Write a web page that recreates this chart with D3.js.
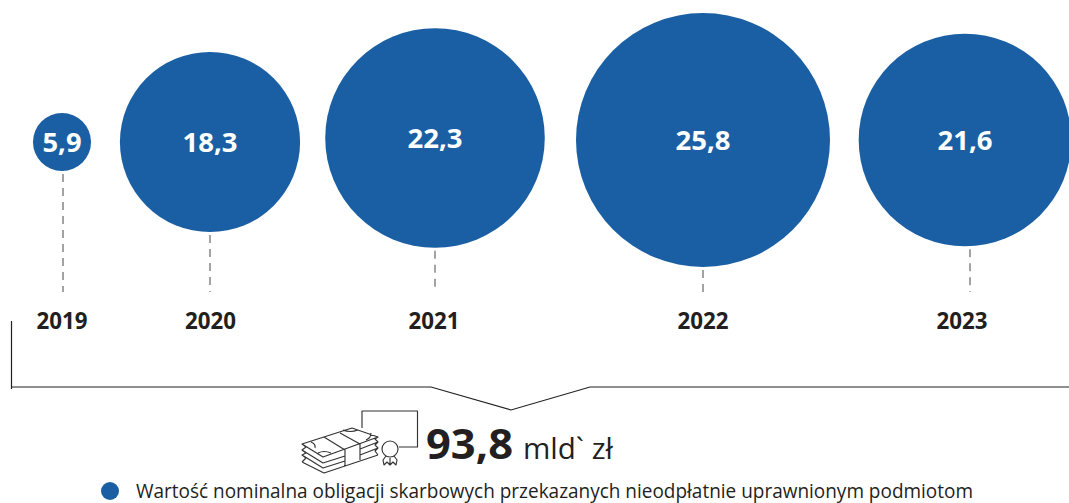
<!DOCTYPE html>
<html lang="pl">
<head>
<meta charset="utf-8">
<script src="https://cdn.jsdelivr.net/npm/d3@7/dist/d3.min.js"></script>
<style>
  html, body { margin: 0; padding: 0; background: #fff; }
  svg { display: block; }
  text { font-family: "Open Sans", "Noto Sans", sans-serif; }
</style>
</head>
<body>
<svg id="chart" width="1069" height="503"></svg>
<script>
// Nominal value of treasury bonds by year (bln PLN)
const years = ["2019", "2020", "2021", "2022", "2023"];
const bondValues = [5.9, 18.3, 22.3, 25.8, 21.6];
const totalLabel = "93,8";
const totalUnit = "mld` zł";
const legendLabel = "Wartość nominalna obligacji skarbowych przekazanych nieodpłatnie uprawnionym podmiotom";

const BLUE = "#1a5fa3";
const INK = "#231f20";

const svg = d3.select("#chart");
const plPL = d3.formatLocale({ decimal: ",", thousands: " ", grouping: [3], currency: ["", " zł"] });
const fmt = plPL.format(".1f");

// Bubble radius grows linearly with the value
const radius = d3.scaleLinear().domain([0, 25.8]).range([0, 127]);
const xPos = d3.scaleOrdinal().domain(years).range([62, 210, 435, 703, 965]);
const yPos = d3.scaleOrdinal().domain(years).range([142, 142, 138, 140, 140]);
// Leaders and year captions sit slightly off the bubble centres
const xLeader = d3.scaleOrdinal().domain(years).range([63, 210, 435, 703, 970]);
const xYear = d3.scaleOrdinal().domain(years).range([62, 210.5, 434, 703, 962]);

const rows = years.map((year, i) => ({ year, value: bondValues[i] }));

// Dashed leaders from each bubble down to its year
const leaderBottom = 292;
svg.append("g").selectAll("line").data(rows).join("line")
  .attr("x1", d => xLeader(d.year))
  .attr("x2", d => xLeader(d.year))
  .attr("y1", d => yPos(d.year) + radius(d.value) + 3)
  .attr("y2", leaderBottom)
  .attr("stroke", "#58585a")
  .attr("stroke-width", 1.1)
  .attr("stroke-dasharray", "8 6");

svg.append("g").selectAll("circle").data(rows).join("circle")
  .attr("cx", d => xPos(d.year))
  .attr("cy", d => yPos(d.year))
  .attr("r", d => radius(d.value))
  .attr("fill", BLUE);

// Value labels: condensed to the width of the label's own characters
svg.append("g").selectAll("text").data(rows).join("text")
  .attr("x", d => xPos(d.year))
  .attr("y", d => yPos(d.year) + 9.5)
  .attr("text-anchor", "middle")
  .attr("fill", "#fff")
  .attr("font-size", 27)
  .attr("font-weight", 700)
  .attr("textLength", d => fmt(d.value).length > 3 ? 55 : 39)
  .attr("lengthAdjust", "spacingAndGlyphs")
  .text(d => fmt(d.value));

svg.append("g").selectAll("text").data(rows).join("text")
  .attr("x", d => xYear(d.year))
  .attr("y", 328.5)
  .attr("text-anchor", "middle")
  .attr("fill", INK)
  .attr("font-size", 22.5)
  .attr("font-weight", 700)
  .attr("textLength", 51)
  .attr("lengthAdjust", "spacingAndGlyphs")
  .text(d => d.year);

// Bracket gathering all years into the total
svg.append("path")
  .attr("d", "M11.5,321V389M11,387H431L511,410L590,387H1069")
  .attr("fill", "none")
  .attr("stroke", INK)
  .attr("stroke-width", 1.2);

// Banknote stack with a certificate and rosette
const icon = svg.append("g")
  .attr("fill", "none")
  .attr("stroke", "#333335")
  .attr("stroke-width", 1.15)
  .attr("stroke-linejoin", "round");
icon.append("path").attr("d", [
  "M302,444L352,428L378,437L323,457Z",
  "M324,437L345,450V466",
  "M340,433L360,444V460",
  "M302,450L323,463L345,456",
  "M302,455L323,468L345,461",
  "M302,462L324,473L378,455",
  "M302,444L306,447L302,450L306,453L302,455L306,458L302,462",
  "M360,449L378,442L375,439L378,437",
  "M360,455L378,448L375,445L378,442",
  "M378,448L375,451L378,455",
  "M311,442Q316,444 315,448",
  "M343,430Q350,433 358,430",
  "M318,453Q324,450 331,453",
  "M366,440Q371,438 371,433"
].join(""));
icon.append("path").attr("d", "M362,428V411H417.5V447H399");
icon.append("circle").attr("cx", 390).attr("cy", 449).attr("r", 8);
icon.append("path").attr("d", "M386,456L383,460L384,465L387,462L390,465L390,458M394,456L397,460L396,465L393,462L390,465");

svg.append("text")
  .attr("x", 426).attr("y", 459)
  .attr("fill", INK)
  .attr("font-size", 42)
  .attr("font-weight", 700)
  .attr("textLength", 87)
  .attr("lengthAdjust", "spacingAndGlyphs")
  .text(totalLabel);

svg.append("text")
  .attr("x", 523).attr("y", 459)
  .attr("fill", INK)
  .attr("font-size", 30)
  .attr("textLength", 90)
  .attr("lengthAdjust", "spacingAndGlyphs")
  .text(totalUnit);

// Legend
svg.append("circle").attr("cx", 110).attr("cy", 491).attr("r", 9).attr("fill", BLUE);
svg.append("text")
  .attr("x", 136).attr("y", 498)
  .attr("fill", INK)
  .attr("font-size", 19.5)
  .attr("textLength", 837)
  .attr("lengthAdjust", "spacingAndGlyphs")
  .text(legendLabel);
</script>
</body>
</html>
